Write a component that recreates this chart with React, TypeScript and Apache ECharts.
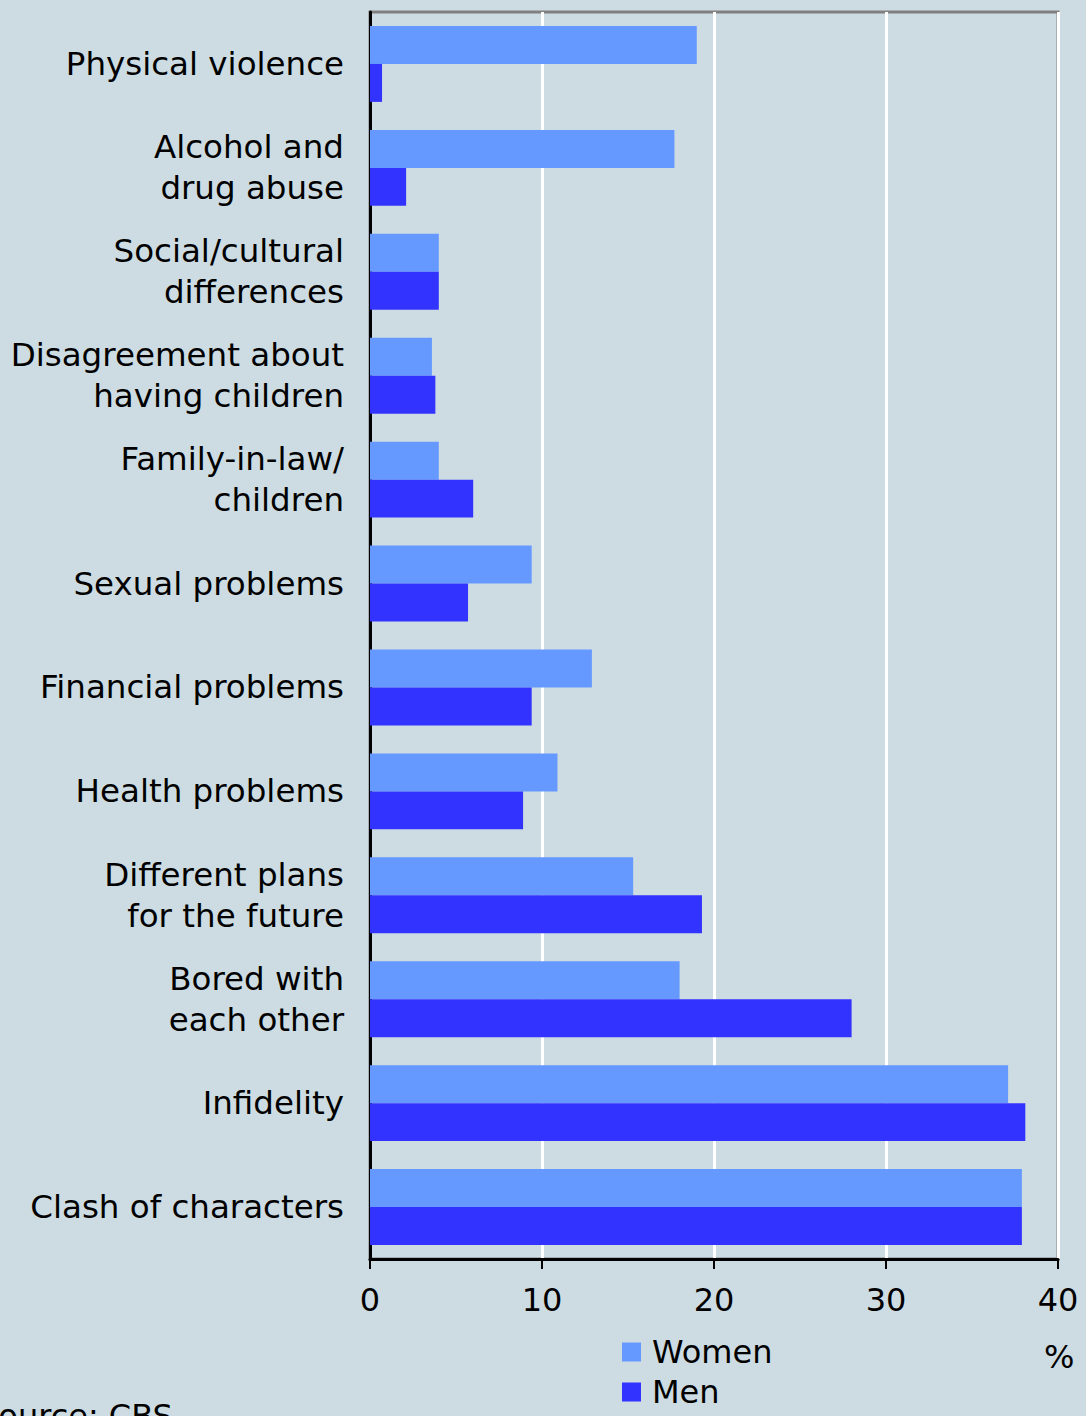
import React, { useEffect, useRef } from "react";
import * as echarts from "echarts";

const categories = [
  "Physical violence",
  "Alcohol and\ndrug abuse",
  "Social/cultural\ndifferences",
  "Disagreement about\nhaving children",
  "Family-in-law/\nchildren",
  "Sexual problems",
  "Financial problems",
  "Health problems",
  "Different plans\nfor the future",
  "Bored with\neach other",
  "Infidelity",
  "Clash of characters",
];

const women = [19.0, 17.7, 4.0, 3.6, 4.0, 9.4, 12.9, 10.9, 15.3, 18.0, 37.1, 37.9];
const men = [0.7, 2.1, 4.0, 3.8, 6.0, 5.7, 9.4, 8.9, 19.3, 28.0, 38.1, 37.9];

const xTicks = [0, 10, 20, 30, 40];
const seriesNames = ["Women", "Men"];
const unitLabel = "%";
const sourceLabel = "Source: CBS";

const FONT = "DejaVu Sans";

export default function App() {
  const ref = useRef<HTMLDivElement>(null);

  useEffect(() => {
    if (!ref.current) return;
    const chart = echarts.init(ref.current, null, { renderer: "svg" });
    chart.setOption({
      animation: false,
      backgroundColor: "#cddce2",
      textStyle: { fontFamily: FONT },
      grid: {
        left: 370,
        right: 28,
        top: 12,
        bottom: 157,
        show: true,
        borderColor: "#808080",
        borderWidth: 3,
        backgroundColor: "transparent",
      },
      legend: {
        orient: "vertical",
        left: 622,
        top: 1336,
        icon: "rect",
        itemWidth: 19,
        itemHeight: 19,
        itemGap: 8,
        padding: 0,
        data: seriesNames,
        textStyle: {
          fontFamily: FONT,
          fontSize: 32,
          lineHeight: 32,
          color: "#000",
          padding: [0, 0, 0, 6],
        },
      },
      xAxis: {
        type: "value",
        min: xTicks[0],
        max: xTicks[xTicks.length - 1],
        interval: 10,
        axisLine: { show: true, lineStyle: { color: "#000", width: 3 } },
        axisTick: { show: true, length: 10, lineStyle: { color: "#000", width: 2 } },
        axisLabel: {
          margin: 25,
          fontFamily: FONT,
          fontSize: 32,
          color: "#000",
        },
        splitLine: { show: true, lineStyle: { color: "#ffffff", width: 3 } },
      },
      yAxis: {
        type: "category",
        data: categories,
        inverse: true,
        axisLine: { show: true, lineStyle: { color: "#000", width: 3 } },
        axisTick: { show: false },
        axisLabel: {
          margin: 26,
          fontFamily: FONT,
          fontSize: 32.5,
          lineHeight: 41,
          color: "#000",
          align: "right",
        },
        splitLine: { show: false },
      },
      series: [
        {
          name: seriesNames[0],
          type: "bar",
          data: women,
          barGap: "0%",
          barCategoryGap: "27%",
          itemStyle: { color: "#6699ff" },
        },
        {
          name: seriesNames[1],
          type: "bar",
          data: men,
          barGap: "0%",
          barCategoryGap: "27%",
          itemStyle: { color: "#3333ff" },
        },
      ],
      graphic: [
        {
          type: "text",
          left: 1044,
          top: 1341,
          style: { text: unitLabel, font: `32px '${FONT}'`, fill: "#000" },
        },
        {
          type: "text",
          left: -22,
          top: 1400,
          style: { text: sourceLabel, font: `32px '${FONT}'`, fill: "#000" },
        },
      ],
    });
    return () => chart.dispose();
  }, []);

  return (
    <div
      ref={ref}
      style={{ position: "absolute", left: 0, top: 0, width: 1086, height: 1416 }}
    />
  );
}
